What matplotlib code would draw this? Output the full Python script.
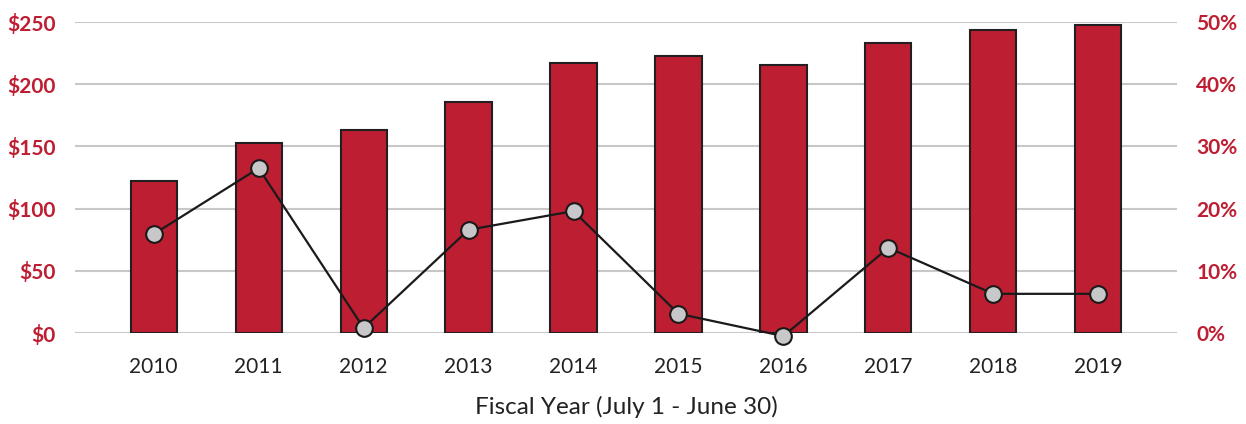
import matplotlib.pyplot as plt
from matplotlib.ticker import FuncFormatter

years = ["2010", "2011", "2012", "2013", "2014", "2015", "2016", "2017", "2018", "2019"]
amount = [122, 152.7, 163, 185.7, 217, 222.7, 215.4, 233, 243.6, 247.6]
growth = [15.9, 26.5, 0.8, 16.6, 19.6, 3.1, -0.5, 13.7, 6.3, 6.3]

red = "#BE1E32"
plt.rcParams["font.family"] = ["Lato", "DejaVu Sans"]

fig = plt.figure(figsize=(12.46, 4.24), dpi=100)
ax = fig.add_axes([0.0602, 0.2146, 0.8844, 0.7334])
ax2 = ax.twinx()

x = range(len(years))
ax.bar(x, amount, width=0.44, color=red, edgecolor="#231F20", linewidth=1.5, zorder=2)
ax.set_ylim(0, 250)
ax.set_yticks([0, 50, 100, 150, 200, 250])
ax.yaxis.set_major_formatter(FuncFormatter(lambda v, p: f"${v:.0f}"))
ax.grid(axis="y", color="#C8C8C8", linewidth=1.5, zorder=0)
ax.set_axisbelow(True)
ax.set_xlim(-0.75, 9.75)
ax.set_xticks(list(x))
ax.set_xticklabels(years)
ax.tick_params(axis="x", length=0, pad=17, labelsize=15, labelcolor="#222222")
ax.tick_params(axis="y", length=0, pad=14, labelsize=15, labelcolor=red)
for lab in ax.get_yticklabels():
    lab.set_fontweight("bold")
ax.set_xlabel("Fiscal Year (July 1 - June 30)", fontsize=17.5, color="#222222", labelpad=14)

ax2.plot(x, growth, color="#1A1A1A", linewidth=1.6, marker="o", markersize=12,
         markerfacecolor="#C8C8CA", markeredgecolor="#1A1A1A", markeredgewidth=1.5,
         clip_on=False, zorder=3)
ax2.set_ylim(0, 50)
ax2.set_yticks([0, 10, 20, 30, 40, 50])
ax2.yaxis.set_major_formatter(FuncFormatter(lambda v, p: f"{v:.0f}%"))
ax2.tick_params(axis="y", length=0, pad=14, labelsize=15, labelcolor=red)
for lab in ax2.get_yticklabels():
    lab.set_fontweight("bold")

for a in (ax, ax2):
    for s in a.spines.values():
        s.set_visible(False)

fig.savefig("out.png", dpi=100)
